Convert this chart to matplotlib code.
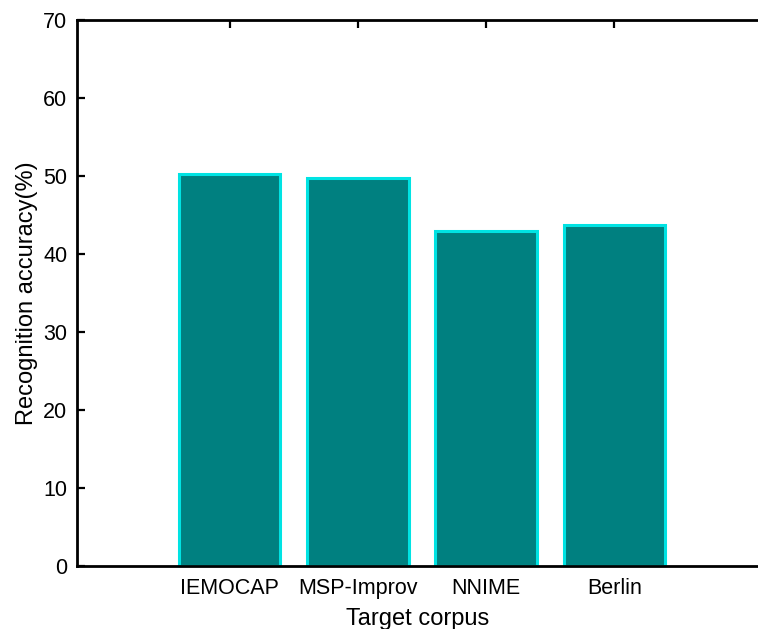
import matplotlib.pyplot as plt

# Accuracy per target corpus
corpora = ["IEMOCAP", "MSP-Improv", "NNIME", "Berlin"]
accuracy = [50.2, 49.7, 42.9, 43.7]
positions = [1, 2, 3, 4]

plt.rcParams["font.family"] = ["Liberation Sans", "DejaVu Sans"]

fig = plt.figure(figsize=(7.58, 6.29), dpi=100)
ax = fig.add_axes([0.1016, 0.1002, 0.8984, 0.868])

ax.bar(positions, accuracy, width=0.79, color="#008080",
       edgecolor="#00E3E3", linewidth=2.2, zorder=2)

ax.set_xlim(-0.19, 5.12)
ax.set_ylim(0, 70)
ax.set_xticks(positions)
ax.set_xticklabels(corpora)
ax.set_yticks(range(0, 71, 10))

ax.spines["right"].set_visible(False)
for s in ["left", "bottom", "top"]:
    ax.spines[s].set_linewidth(2.0)
    ax.spines[s].set_zorder(3)

ax.tick_params(axis="x", direction="in", top=True, length=6, width=1.6,
               labelsize=15.5, pad=9)
ax.tick_params(axis="y", direction="in", length=6, width=1.6,
               labelsize=15.5, pad=7)

ax.set_ylabel("Recognition accuracy(%)", fontsize=17, labelpad=4)
ax.set_xlabel("Target corpus", fontsize=17, labelpad=6)

fig.savefig("out.png", dpi=100)
